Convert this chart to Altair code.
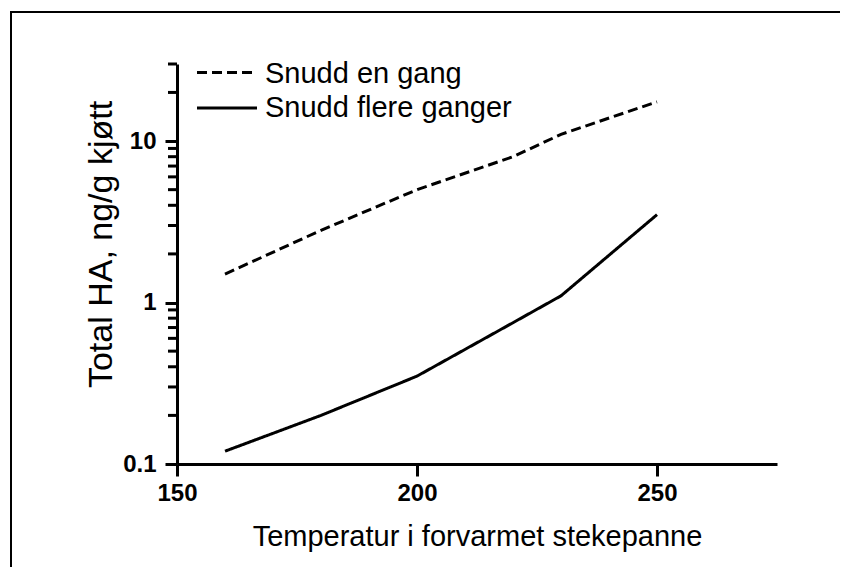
import altair as alt
import pandas as pd

series = ["Snudd en gang", "Snudd flere ganger"]
temps = [160, 180, 200, 220, 230, 250]
vals_once = [1.5, 2.8, 5.0, 8.0, 11.0, 17.5]
vals_multi = [0.12, 0.2, 0.35, 0.75, 1.1, 3.5]
x_ticks = [150, 200, 250]
y_major = [0.1, 1, 10]
y_minor = [0.2, 0.3, 0.4, 0.5, 0.6, 0.7, 0.8, 0.9,
           2, 3, 4, 5, 6, 7, 8, 9, 20, 30]

df = pd.DataFrame({
    "temp": temps + temps,
    "val": vals_once + vals_multi,
    "series": [series[0]] * len(temps) + [series[1]] * len(temps),
})
minor_df = pd.DataFrame({"val": y_minor})
one = pd.DataFrame({"a": [0]})

FONT = "Liberation Sans"
W, H = 600, 400

xscale = alt.Scale(domain=[150, 275], nice=False, zero=False)
yscale = alt.Scale(type="log", domain=[0.1, 30], nice=False)

y_axis = alt.Axis(values=y_major, title="Total HA, ng/g kjøtt",
                  labelExpr="datum.value >= 10 ? '10' : (datum.value >= 1 ? '1' : '0.1')",
                  titleFont=FONT, titleFontSize=34, titleFontWeight="normal",
                  titleColor="black", titleX=-66, titleY=180, titleAngle=270,
                  titleAlign="center", titleBaseline="alphabetic",
                  labelFont=FONT, labelFontSize=24, labelFontWeight="bold",
                  labelColor="black", labelPadding=9, tickSize=12, tickWidth=3,
                  tickColor="black", domainWidth=3, domainColor="black",
                  grid=False, labelFlush=False)

x_axis = alt.Axis(values=x_ticks, title="Temperatur i forvarmet stekepanne",
                  titleFont=FONT, titleFontSize=29, titleFontWeight="normal",
                  titleColor="black", titleX=W / 2, titleY=81,
                  titleAlign="center", titleBaseline="alphabetic",
                  labelFont=FONT, labelFontSize=24, labelFontWeight="bold",
                  labelColor="black", labelPadding=5, tickSize=12, tickWidth=3,
                  tickColor="black", domainWidth=3, domainColor="black",
                  grid=False, labelFlush=False)

lines = alt.Chart(df).mark_line(strokeWidth=3, color="black", strokeCap="butt").encode(
    x=alt.X("temp:Q", scale=xscale, axis=x_axis),
    y=alt.Y("val:Q", scale=yscale, axis=y_axis),
    strokeDash=alt.StrokeDash("series:N", scale=alt.Scale(domain=series, range=[[10, 5], [1, 0]]),
                              legend=None),
    detail="series:N",
)

minor = alt.Chart(minor_df).mark_rule(strokeWidth=3, color="black").encode(
    y=alt.Y("val:Q", scale=yscale, axis=y_axis),
    x=alt.value(-9), x2=alt.value(0),
)

leg_line1 = alt.Chart(one).mark_rule(strokeWidth=3, color="black", strokeDash=[10, 5]).encode(
    x=alt.value(20), x2=alt.value(80), y=alt.value(8.5), y2=alt.value(8.5))
leg_line2 = alt.Chart(one).mark_rule(strokeWidth=3, color="black").encode(
    x=alt.value(20), x2=alt.value(80), y=alt.value(44), y2=alt.value(44))
leg_text1 = alt.Chart(pd.DataFrame({"s": [series[0]]})).mark_text(
    font=FONT, fontSize=29, align="left", baseline="alphabetic", color="black").encode(
    text="s:N", x=alt.value(88), y=alt.value(19))
leg_text2 = alt.Chart(pd.DataFrame({"s": [series[1]]})).mark_text(
    font=FONT, fontSize=29, align="left", baseline="alphabetic", color="black").encode(
    text="s:N", x=alt.value(88), y=alt.value(53))

frame_top = alt.Chart(one).mark_rect(color="black", strokeWidth=0).encode(
    x=alt.value(-167), x2=alt.value(700), y=alt.value(-53), y2=alt.value(-51))
frame_left = alt.Chart(one).mark_rect(color="black", strokeWidth=0).encode(
    x=alt.value(-167), x2=alt.value(-165), y=alt.value(-53), y2=alt.value(560))

chart = alt.layer(
    frame_top, frame_left, lines, minor, leg_line1, leg_line2, leg_text1, leg_text2
).properties(
    width=W, height=H,
    autosize=alt.AutoSizeParams(type="none"),
    padding={"left": 169, "top": 56, "right": 63, "bottom": 103},
    background="white",
).configure_view(stroke=None)

chart.save("out.html", embed_options={"renderer": "svg", "actions": False})
